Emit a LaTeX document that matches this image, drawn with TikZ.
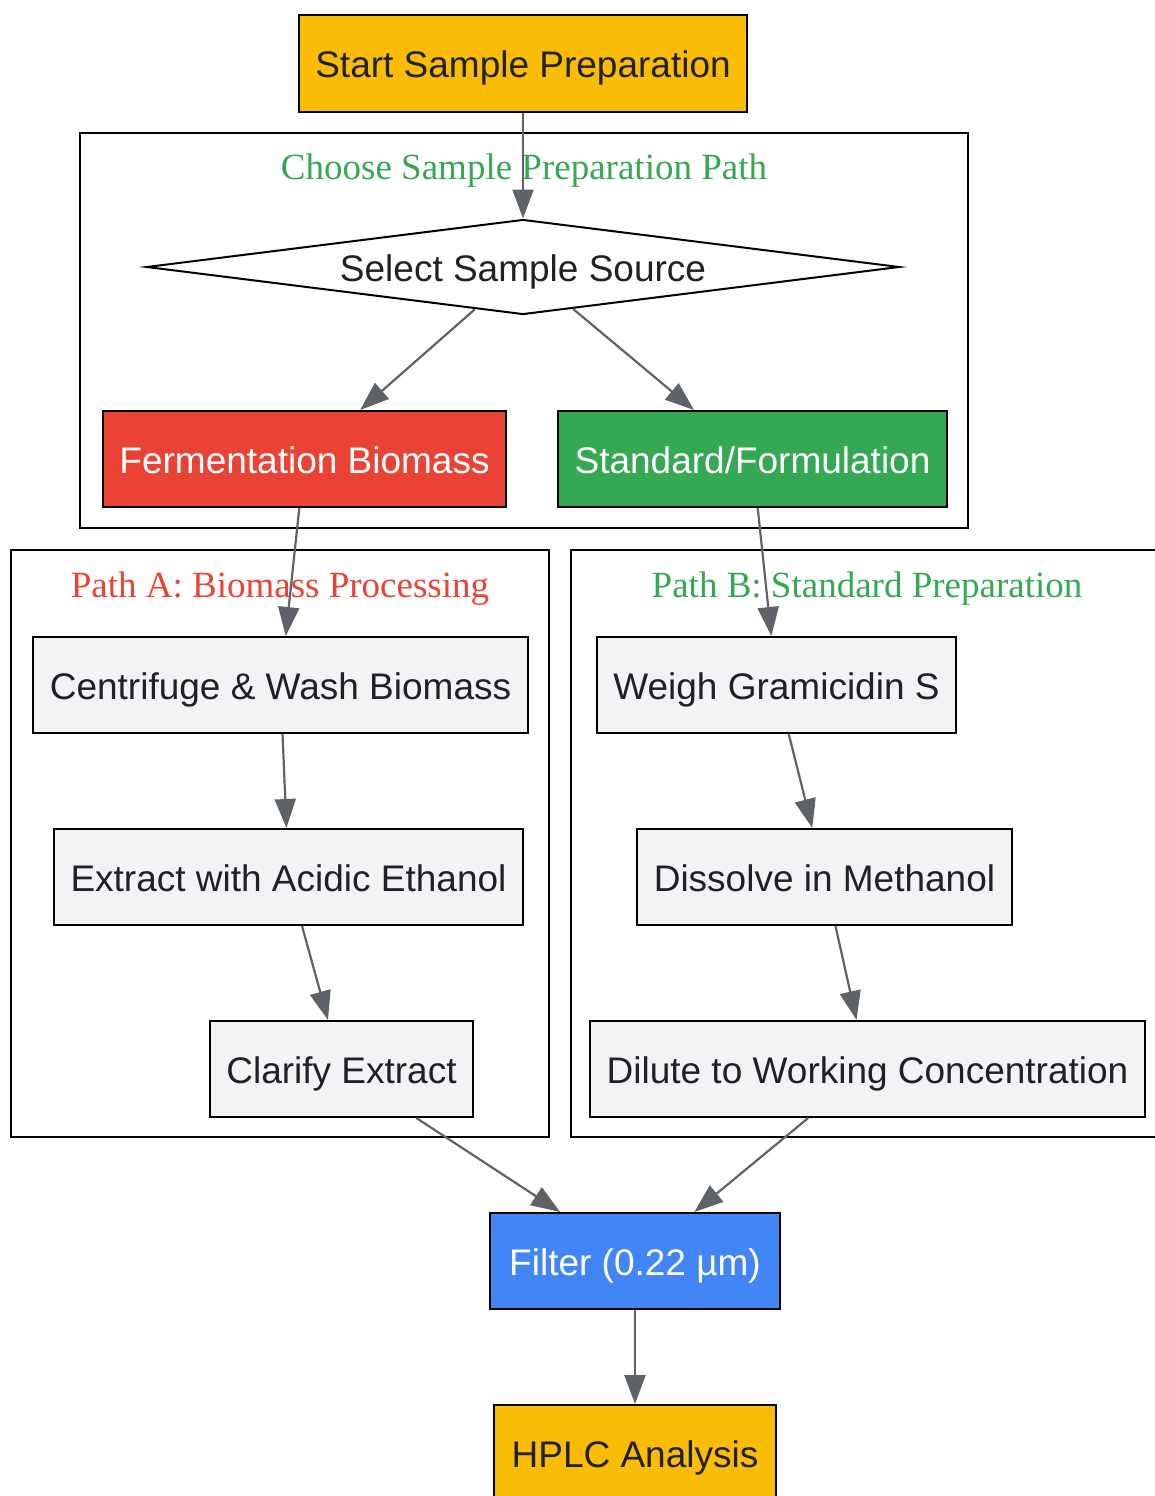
\documentclass[tikz,border=0pt]{standalone}
\usepackage{fontspec}
\setmainfont{Liberation Sans}
\newfontfamily\clusterfont{Liberation Serif}
\usepackage{tikz}
\usetikzlibrary{shapes.geometric, positioning, arrows.meta}

\definecolor{gyellow}{HTML}{FBBC05}
\definecolor{gred}{HTML}{EA4335}
\definecolor{ggreen}{HTML}{34A853}
\definecolor{gblue}{HTML}{4285F4}
\definecolor{glight}{HTML}{F1F3F4}
\definecolor{gtext}{HTML}{202124}
\definecolor{gedge}{HTML}{5F6368}

\tikzset{
  stepbox/.style={draw=black, line width=2pt, rectangle, minimum height=96pt,
    inner xsep=16.5pt, text height=36pt, text depth=8pt, text=gtext,
    font=\fontsize{37}{44}\selectfont},
  plain/.style={stepbox, fill=glight},
  accent/.style={stepbox, fill=#1},
  bright/.style={stepbox, fill=#1, text=white},
  choice/.style={draw=black, line width=2pt, diamond, aspect=8, inner sep=0pt,
    minimum width=753pt, minimum height=95pt, text height=36pt, text depth=8pt,
    text=gtext, font=\fontsize{37}{44}\selectfont},
  cluster/.style={draw=black, line width=2pt},
  clustertitle/.style={font=\clusterfont\fontsize{37}{44}\selectfont, text=#1},
  flow/.style={draw=gedge, fill=gedge, line width=2.2pt,
    -{Triangle[length=29pt, width=21pt]}}
}

\begin{document}
\begin{tikzpicture}[x=1pt, y=-1pt, node distance=192pt, on grid]
  \useasboundingbox (0,0) rectangle (1154,1496);

  % clusters
  \draw[cluster] (80,133) rectangle (968,528);
  \node[clustertitle=ggreen] (choosetitle) at (524,171) {Choose Sample Preparation Path};
  \draw[cluster] (11,550) rectangle (549,1137);
  \node[clustertitle=gred] (pathatitle) at (280,589) {Path A: Biomass Processing};
  \draw[cluster] (571,550) rectangle (1160,1137);
  \node[clustertitle=ggreen] (pathbtitle) at (867,589) {Path B: Standard Preparation};

  % nodes
  \node[accent=gyellow] (start) at (523,63.5) {Start Sample Preparation};
  \node[choice] (select) [below=203.5pt of start] {Select Sample Source};
  \node[bright=gred] (ferm) [below left=192pt and 218.5pt of select] {Fermentation Biomass};
  \node[bright=ggreen] (std) [below right=192pt and 229.5pt of select] {Standard/Formulation};

  \node[plain] (wash) [below left=226pt and 24pt of ferm] {Centrifuge \& Wash Biomass};
  \node[plain] (extract) [below right=192pt and 8pt of wash] {Extract with Acidic Ethanol};
  \node[plain] (clarify) [below right=192pt and 53pt of extract] {Clarify Extract};

  \node[plain] (weigh) [below right=226pt and 24pt of std] {Weigh Gramicidin S};
  \node[plain] (dissolve) [below right=192pt and 48pt of weigh] {Dissolve in Methanol};
  \node[plain] (dilute) [below right=192pt and 43pt of dissolve] {Dilute to Working Concentration};

  \node[bright=gblue, inner xsep=19pt] (filter) [below right=192pt and 293.5pt of clarify] {Filter (0.22 µm)};
  \node[accent=gyellow, inner xsep=18pt] (hplc) [below=of filter] {HPLC Analysis};

  % edges
  \path[flow]
  (start) edge (select)
  (select) edge (ferm)
    (select) edge (std)
  (ferm) edge (wash)
    (wash) edge (extract)
    (extract) edge (clarify)
  (std) edge (weigh)
    (weigh) edge (dissolve)
    (dissolve) edge (dilute)
  (clarify) edge (filter)
    (dilute) edge (filter)
  (filter) edge (hplc);
\end{tikzpicture}
\end{document}
